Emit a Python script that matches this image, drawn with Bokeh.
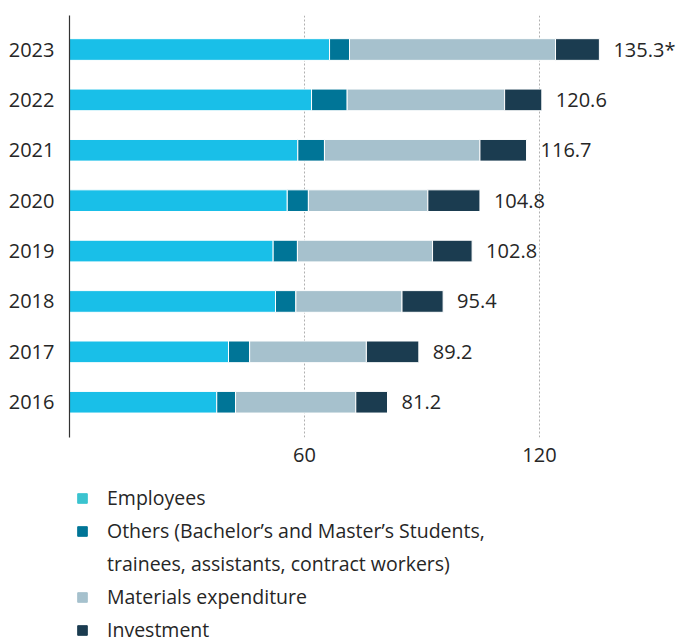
from bokeh.plotting import figure
from bokeh.layouts import column
from bokeh.models import (ColumnDataSource, Range1d, FixedTicker, Legend, LegendItem)
from bokeh.core.properties import value
from bokeh.embed import file_html
from bokeh.resources import INLINE

years = [2016, 2017, 2018, 2019, 2020, 2021, 2022, 2023]
employees = [37.6, 40.6, 52.6, 52.0, 55.6, 58.3, 61.8, 66.4]
others = [4.8, 5.4, 5.2, 6.2, 5.4, 6.8, 9.1, 5.1]
materials = [30.7, 29.8, 27.1, 34.5, 30.5, 39.7, 40.2, 52.6]
investment = [8.1, 13.4, 10.5, 10.1, 13.3, 11.9, 9.5, 11.2]
totals = [81.2, 89.2, 95.4, 102.8, 104.8, 116.7, 120.6, 135.3]
total_labels = ["81.2", "89.2", "95.4", "102.8", "104.8", "116.7", "120.6", "135.3*"]
x_ticks = [60, 120]

series = ["employees", "others", "materials", "investment"]
legend_lines = ["Employees",
                "Others (Bachelor\u2019s and Master\u2019s Students,",
                "trainees, assistants, contract workers)",
                "Materials expenditure",
                "Investment"]
legend_series = ["employees", "others", None, "materials", "investment"]
colors = ["#19BFE8", "#007597", "#A6C1CD", "#1B3C50"]
legend_colors = ["#3BC3CF", "#007597", None, "#A6C1CD", "#1B3C50"]

FONT = "Open Sans"
TEXT = "#262626"

source = ColumnDataSource(dict(year=years, employees=employees, others=others,
                               materials=materials, investment=investment,
                               total=totals, label=total_labels))

p = figure(width=678, height=474, output_backend="svg", toolbar_location=None,
           x_range=Range1d(0, 155.5), y_range=Range1d(2015.30, 2023.675),
           min_border_left=69, min_border_right=0, min_border_top=15,
           min_border_bottom=37)
p.outline_line_color = None

p.hbar_stack(series, y="year", height=0.43, color=colors,
             line_color="white", line_width=1, source=source)

p.text(x="total", y="year", text="label", source=source, x_offset=14,
       text_align="left", text_baseline="middle", text_font_size="20px",
       text_font=value(FONT), text_color=TEXT)

p.xaxis.ticker = FixedTicker(ticks=x_ticks)
p.xaxis.axis_line_color = None
p.xaxis.major_tick_line_color = None
p.xaxis.minor_tick_line_color = None
p.xaxis.major_tick_out = 0
p.xaxis.major_tick_in = 0
p.xaxis.major_label_standoff = 10
p.xaxis.major_label_text_font = FONT
p.xaxis.major_label_text_font_size = "20px"
p.xaxis.major_label_text_color = TEXT

p.yaxis.ticker = FixedTicker(ticks=years)
p.yaxis.major_label_overrides = {y: str(y) for y in years}
p.yaxis.axis_line_color = "#333333"
p.yaxis.axis_line_width = 1.2
p.yaxis.major_tick_line_color = None
p.yaxis.minor_tick_line_color = None
p.yaxis.major_tick_out = 0
p.yaxis.major_tick_in = 0
p.yaxis.major_label_standoff = 15
p.yaxis.major_label_text_font = FONT
p.yaxis.major_label_text_font_size = "20px"
p.yaxis.major_label_text_color = TEXT

p.ygrid.grid_line_color = None
p.xgrid.ticker = FixedTicker(ticks=x_ticks)
p.xgrid.grid_line_color = "#b0b0b0"
p.xgrid.grid_line_dash = "2 2"
p.xgrid.grid_line_width = 1

# legend panel: hidden renderers supply only the legend swatches
lg = figure(width=678, height=168, output_backend="svg", toolbar_location=None,
            x_axis_type=None, y_axis_type=None, x_range=Range1d(0, 1), y_range=Range1d(0, 1),
            min_border_left=0, min_border_right=0, min_border_top=0, min_border_bottom=0)
lg.outline_line_color = None
lg.grid.visible = False
items = []
for lab, s, c in zip(legend_lines, legend_series, legend_colors):
    if c is None:
        r = lg.hbar(y="year", right="others", height=0.4, source=source,
                    fill_alpha=0, line_alpha=0)
    else:
        r = lg.hbar(y="year", right=s, height=0.4, source=source,
                    fill_color=c, line_color=c)
    r.visible = False
    items.append(LegendItem(label=lab, renderers=[r]))
legend = Legend(items=items, location=(7, -4), orientation="vertical",
                label_text_font=FONT, label_text_font_size="19.5px",
                label_text_color=TEXT, glyph_width=12, glyph_height=12,
                label_standoff=19, label_height=33, spacing=0, padding=0, margin=0,
                border_line_color=None, background_fill_alpha=0,
                inactive_fill_alpha=0)
lg.add_layout(legend, "center")

layout = column(p, lg, spacing=0)
open("out.html", "w").write(file_html(layout, INLINE))
